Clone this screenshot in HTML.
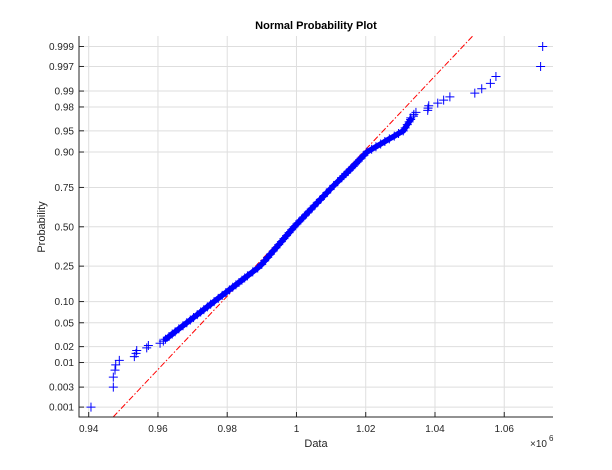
<!DOCTYPE html>
<html><head><meta charset="utf-8"><style>
html,body{margin:0;padding:0;background:#fff;}
svg{display:block;font-family:"Liberation Sans",sans-serif;}
</style></head><body>
<svg id="chart" width="612" height="470" viewBox="0 0 612 470"></svg>
<script>
// ----- data (values in raw units, axis shows x10^6) -----
const lowerTail = [940660,947110,947110,947600,947800,948840,953180,953670,953870,956760,957230,960610,961560];
const upperTail = [1033000,1033800,1033900,1034500,1037900,1038000,1038200,1040800,1042500,1044300,1051500,1053500,1056000,1057600,1070500,1071100];
const sampleCount = 500;
const bodyProbs = [0.027,0.030,0.033,0.036,0.040,0.045,0.050,0.055,0.060,0.066,0.072,0.078,0.085,0.092,0.100,
 0.11,0.12,0.13,0.14,0.15,0.16,0.17,0.18,0.19,0.20,0.22,0.24,0.26,0.28,0.30,0.32,0.34,0.36,0.38,0.40,0.42,0.44,0.46,0.48,0.50,
 0.52,0.54,0.56,0.58,0.60,0.62,0.64,0.66,0.68,0.70,0.72,0.74,0.76,0.78,0.80,0.81,0.82,0.83,0.84,0.85,0.86,0.87,0.88,0.89,0.90,
 0.908,0.915,0.922,0.928,0.934,0.940,0.945,0.950,0.955,0.960,0.964,0.967];
const bodyValues = [962190,963190,964120,964970,966020,967230,968320,969340,970280,971350,972330,973250,974270,975210,976210,
 977410,978550,979620,980630,981590,982510,983390,984240,985050,985840,987370,988810,989960,990840,991700,992510,993330,994120,994890,995650,996390,997140,997880,998610,999340,
 1000150,1000960,1001780,1002600,1003430,1004270,1005130,1006000,1006900,1007810,1008760,1009730,1010770,1011900,1013090,1013700,1014330,1015000,1015680,1016390,1017100,1017840,1018630,1019470,1020350,
 1021710,1022950,1024310,1025520,1026820,1028240,1029480,1030840,1031390,1032010,1032540,1032970];
const fitMu = 998900;
const fitSigma = 15900;
const xTicks = [940000,960000,980000,1000000,1020000,1040000,1060000];
const xTickLabels = ["0.94","0.96","0.98","1","1.02","1.04","1.06"];
const yTicks = [0.001,0.003,0.01,0.02,0.05,0.10,0.25,0.50,0.75,0.90,0.95,0.98,0.99,0.997,0.999];
const yTickLabels = ["0.001","0.003","0.01","0.02","0.05","0.10","0.25","0.50","0.75","0.90","0.95","0.98","0.99","0.997","0.999"];

// ----- layout -----
const L=79,R=553,T=36,B=417;
const xMin=937200,xMax=1074080,zMin=-3.26,zMax=3.27;
function normInv(p){
  const a=[-39.69683028665376,220.9460984245205,-275.9285104469687,138.3577518672690,-30.66479806614716,2.506628277459239];
  const b=[-54.47609879822406,161.5858368580409,-155.6989798598866,66.80131188771972,-13.28068155288572];
  const c=[-0.007784894002430293,-0.3223964580411365,-2.400758277161838,-2.549732539343734,4.374664141464968,2.938163982698783];
  const d=[0.007784695709041462,0.3224671290700398,2.445134137142996,3.754408661907416];
  const pl=0.02425;let q,r;
  if(p<pl){q=Math.sqrt(-2*Math.log(p));return (((((c[0]*q+c[1])*q+c[2])*q+c[3])*q+c[4])*q+c[5])/((((d[0]*q+d[1])*q+d[2])*q+d[3])*q+1);}
  if(p>1-pl){q=Math.sqrt(-2*Math.log(1-p));return -(((((c[0]*q+c[1])*q+c[2])*q+c[3])*q+c[4])*q+c[5])/((((d[0]*q+d[1])*q+d[2])*q+d[3])*q+1);}
  q=p-0.5;r=q*q;return (((((a[0]*r+a[1])*r+a[2])*r+a[3])*r+a[4])*r+a[5])*q/(((((b[0]*r+b[1])*r+b[2])*r+b[3])*r+b[4])*r+1);
}
function xs(v){return L+(v-xMin)/(xMax-xMin)*(R-L);}
function yz(z){return B-(z-zMin)/(zMax-zMin)*(B-T);}
function yp(p){return yz(normInv(p));}

const svg=document.getElementById('chart');
const NS='http://www.w3.org/2000/svg';
function mk(tag,attrs,parent){const e=document.createElementNS(NS,tag);for(const k in attrs)e.setAttribute(k,attrs[k]);(parent||svg).appendChild(e);return e;}

// grid
const grid=mk('g',{});


xTicks.forEach(v=>{const l=mk('line',{x1:xs(v),x2:xs(v),y1:T,y2:B,stroke:'#dedede','stroke-width':1},grid);
 
 });
yTicks.forEach(p=>{const l=mk('line',{x1:L,x2:R,y1:yp(p),y2:yp(p),stroke:'#dedede','stroke-width':1},grid);
 
 });

// fit line
const lo=fitMu+fitSigma*zMin, hi=fitMu+fitSigma*zMax;
const fit=mk('line',{x1:xs(lo),y1:yz(zMin),x2:xs(hi),y2:yz(zMax),stroke:'#ff0000','stroke-width':1,'stroke-dasharray':'6 2 1.5 2'});



// dense band of body points (overlapping markers)
const band=mk('polyline',{points:bodyValues.map((v,i)=>xs(v)+','+yp(bodyProbs[i])).join(' '),stroke:'#0000ff','stroke-width':5.5,fill:'none','stroke-linejoin':'round','stroke-linecap':'round'});



// points
const pts=mk('g',{stroke:'#0000ff','stroke-width':1,fill:'none'});


function plus(v,p){const x=xs(v),y=yp(p);
 const e=mk('path',{d:`M${x-4.5},${y}H${x+4.5}M${x},${y-4.5}V${y+4.5}`},pts);
 
 }
lowerTail.forEach((v,i)=>plus(v,(i+0.5)/sampleCount));
bodyValues.forEach((v,i)=>plus(v,bodyProbs[i]));
upperTail.forEach((v,i)=>plus(v,(sampleCount-upperTail.length+i+0.5)/sampleCount));

// axes
const ax=mk('g',{stroke:'#262626','stroke-width':1});


mk('line',{x1:L,x2:L,y1:T,y2:B+0.5},ax);
mk('line',{x1:L-0.5,x2:R,y1:B,y2:B},ax);
xTicks.forEach(v=>mk('line',{x1:xs(v),x2:xs(v),y1:B,y2:B-5},ax));
yTicks.forEach(p=>mk('line',{x1:L,x2:L+5,y1:yp(p),y2:yp(p)},ax));

// tick labels
xTicks.forEach((v,i)=>{const t=mk('text',{x:xs(v),y:432,'text-anchor':'middle','font-size':10,fill:'#262626'});t.textContent=xTickLabels[i];
 
 });
yTicks.forEach((p,i)=>{const t=mk('text',{x:74,y:yp(p)+3.5,'text-anchor':'end','font-size':10,fill:'#262626'});t.textContent=yTickLabels[i];
 
 });
</script>
<script>
(function(){
const svg=document.getElementById('chart');const NS='http://www.w3.org/2000/svg';
function tx(s,a){const e=document.createElementNS(NS,'text');for(const k in a)e.setAttribute(k,a[k]);e.textContent=s;svg.appendChild(e);return e;}
const title=tx('Normal Probability Plot',{x:316,y:29,'text-anchor':'middle','font-size':11,'font-weight':'bold',fill:'#000'});


const xl=tx('Data',{x:316,y:447,'text-anchor':'middle','font-size':11,fill:'#262626'});


const yl=tx('Probability',{x:0,y:0,'text-anchor':'middle','font-size':11,fill:'#262626',transform:'translate(45,227) rotate(-90)'});


const ex=tx('×10',{x:530,y:447,'font-size':10,fill:'#262626'});


const sup=tx('6',{x:549,y:441,'font-size':8,fill:'#262626'});


})();
</script>
</body></html>
